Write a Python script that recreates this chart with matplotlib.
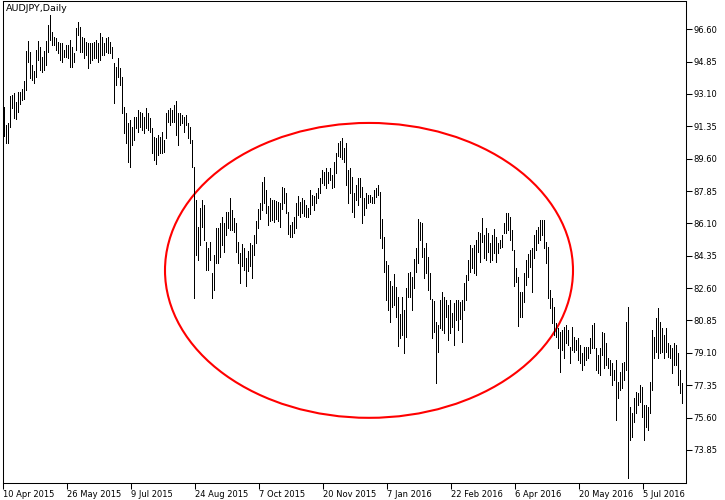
import numpy as np
import matplotlib.pyplot as plt
from matplotlib.patches import Ellipse

# AUDJPY daily high / low
highs = [92.40, 91.43, 91.54, 93.00, 93.05, 93.16, 92.67, 93.21, 93.21, 93.37,
         93.80, 95.43, 95.97, 95.37, 94.67, 94.35, 95.48, 95.97, 95.64, 95.10,
         95.43, 95.97, 96.83, 97.37, 96.45, 96.18, 96.13, 95.91, 95.86, 95.86,
         95.48, 95.75, 95.75, 96.02, 95.64, 95.32, 96.67, 96.99, 96.72, 96.18,
         96.13, 95.91, 95.86, 95.86, 95.86, 95.91, 96.02, 95.86, 96.40, 96.18,
         95.86, 96.13, 96.18, 95.91, 95.64, 94.78, 94.56, 95.05, 94.51, 94.02,
         92.40, 92.07, 91.54, 91.70, 91.32, 91.86, 91.86, 92.24, 92.13, 92.07,
         91.86, 92.35, 92.07, 91.81, 91.26, 90.77, 90.72, 90.88, 90.77, 91.05,
         90.61, 92.07, 92.24, 92.35, 92.24, 92.51, 92.72, 92.07, 92.07, 91.97,
         91.86, 91.97, 91.54, 91.32, 90.61, 89.15, 87.37, 85.91, 86.94, 87.37,
         87.10, 85.10, 84.77, 85.10, 83.42, 84.39, 85.86, 85.86, 86.13, 86.45,
         86.13, 86.72, 86.72, 87.48, 86.83, 86.40, 86.13, 85.10, 84.50, 84.99,
         84.77, 84.23, 84.61, 85.05, 84.93, 85.48, 86.24, 86.89, 87.21, 88.35,
         88.61, 87.91, 87.04, 87.48, 87.37, 87.37, 87.31, 87.26, 87.21, 88.07,
         88.02, 87.75, 86.72, 86.02, 86.18, 86.45, 87.21, 87.58, 87.26, 87.48,
         87.37, 87.10, 86.94, 87.91, 87.64, 87.58, 87.75, 88.02, 88.56, 88.99,
         88.88, 89.10, 88.88, 89.10, 88.72, 89.42, 89.91, 90.45, 90.56, 90.72,
         90.18, 90.45, 88.99, 89.10, 88.61, 87.75, 88.18, 88.56, 88.56, 88.07,
         87.48, 87.75, 87.64, 87.64, 87.53, 87.91, 88.02, 88.18, 87.80, 86.34,
         85.37, 84.07, 83.85, 82.99, 82.72, 83.37, 82.66, 82.12, 81.20, 82.12,
         81.42, 82.61, 83.42, 83.47, 83.20, 84.18, 84.77, 86.34, 86.18, 86.13,
         84.77, 85.05, 84.28, 83.42, 82.01, 81.91, 80.77, 80.61, 81.96, 82.39,
         82.12, 81.96, 81.69, 81.96, 81.26, 81.80, 81.96, 81.96, 81.85, 81.96,
         82.88, 83.31, 84.12, 84.93, 84.77, 84.93, 85.21, 85.64, 85.59, 86.40,
         85.48, 85.86, 85.59, 85.05, 85.48, 85.80, 85.37, 85.05, 85.21, 85.48,
         86.13, 86.67, 86.67, 86.45, 85.75, 84.66, 83.69, 83.20, 82.39, 82.39,
         83.42, 84.12, 84.45, 84.66, 84.77, 85.48, 85.75, 85.91, 86.29, 86.29,
         86.29, 85.10, 84.83, 82.50, 82.07, 81.58, 80.72, 80.45, 80.23, 80.34,
         80.50, 80.61, 80.34, 79.42, 80.50, 79.96, 79.80, 79.91, 79.53, 79.10,
         79.42, 79.42, 79.42, 79.91, 80.61, 80.72, 79.37, 78.99, 79.37, 80.23,
         80.18, 79.64, 78.83, 78.72, 78.56, 78.18, 78.72, 77.53, 78.07, 78.56,
         78.61, 80.77, 81.58, 76.17, 75.85, 76.66, 76.99, 76.93, 77.36, 77.26,
         76.28, 76.28, 76.17, 77.53, 80.34, 79.96, 80.99, 81.53, 80.77, 80.45,
         80.07, 80.45, 79.64, 79.53, 79.37, 79.64, 79.53, 79.10, 78.18, 77.47]

lows = [90.83, 90.45, 90.45, 91.32, 92.35, 91.81, 91.75, 92.13, 92.56, 92.78,
        92.83, 93.32, 94.83, 93.97, 93.86, 93.70, 94.02, 94.94, 94.40, 94.29,
        94.40, 94.67, 95.37, 96.02, 95.75, 95.75, 95.48, 95.32, 94.94, 94.83,
        95.10, 95.10, 95.05, 94.56, 94.56, 94.83, 95.48, 96.29, 95.37, 95.37,
        95.05, 95.21, 94.51, 94.78, 94.94, 95.05, 95.05, 94.83, 94.94, 95.21,
        95.21, 95.37, 95.32, 95.32, 95.05, 92.61, 93.59, 94.02, 93.59, 92.07,
        90.99, 90.45, 89.42, 89.15, 90.34, 90.61, 91.26, 91.05, 91.32, 91.15,
        90.99, 91.26, 91.15, 91.05, 89.91, 89.53, 89.31, 89.80, 89.91, 89.91,
        89.96, 90.72, 91.59, 91.43, 91.59, 91.59, 90.88, 90.34, 91.43, 91.54,
        91.05, 91.43, 90.72, 90.45, 89.15, 82.07, 84.39, 84.12, 84.93, 85.91,
        85.21, 83.58, 83.58, 84.12, 82.07, 82.50, 83.96, 83.96, 84.28, 84.93,
        84.55, 85.48, 85.86, 85.75, 85.75, 85.64, 84.55, 83.96, 82.88, 83.80,
        83.58, 82.72, 83.53, 83.80, 83.15, 84.39, 85.05, 85.86, 86.34, 86.83,
        87.21, 86.67, 86.02, 86.24, 86.29, 86.18, 86.34, 86.24, 85.91, 86.89,
        87.21, 86.67, 85.53, 85.37, 85.37, 85.59, 85.86, 86.56, 86.45, 86.67,
        86.51, 86.45, 86.45, 86.61, 87.10, 86.83, 87.21, 87.48, 87.75, 88.29,
        88.18, 88.02, 88.29, 88.45, 88.02, 88.07, 88.83, 89.75, 89.69, 89.58,
        89.42, 88.18, 87.21, 87.75, 86.72, 86.45, 87.37, 87.10, 87.53, 86.13,
        86.56, 86.94, 87.21, 87.26, 87.21, 87.21, 87.53, 87.64, 85.32, 84.77,
        83.47, 81.96, 81.42, 80.77, 81.58, 81.69, 81.04, 79.48, 79.91, 80.07,
        79.10, 79.96, 82.12, 82.12, 81.42, 82.61, 83.47, 83.96, 85.21, 84.28,
        83.15, 83.42, 82.50, 82.01, 79.91, 80.23, 77.47, 79.15, 80.45, 80.34,
        80.18, 81.04, 79.80, 80.18, 80.50, 79.53, 80.88, 80.34, 80.93, 79.69,
        81.42, 81.96, 83.04, 83.47, 83.69, 83.42, 83.31, 84.55, 84.01, 85.10,
        84.23, 84.12, 84.55, 84.01, 84.12, 84.50, 84.01, 84.50, 84.77, 84.83,
        85.59, 85.59, 85.75, 85.21, 84.66, 82.72, 82.93, 80.55, 81.04, 81.04,
        81.85, 82.77, 83.20, 83.74, 82.39, 84.23, 84.66, 85.05, 85.21, 85.48,
        84.77, 83.96, 82.07, 81.53, 80.72, 80.07, 79.96, 79.37, 78.07, 79.26,
        78.83, 79.64, 79.53, 78.56, 79.26, 79.15, 79.26, 78.72, 78.56, 78.18,
        78.45, 78.72, 78.83, 79.10, 79.37, 79.37, 78.18, 78.02, 77.91, 78.99,
        78.29, 78.45, 78.29, 77.91, 77.37, 77.63, 75.47, 76.66, 77.09, 77.20,
        77.63, 78.18, 72.34, 74.39, 74.55, 75.36, 75.85, 76.28, 76.45, 75.63,
        74.39, 75.09, 74.93, 75.85, 77.09, 78.83, 79.15, 78.83, 79.10, 79.15,
        78.83, 79.15, 78.88, 78.83, 78.02, 78.45, 78.45, 77.37, 76.93, 76.39]

date_labels = ['10 Apr 2015', '26 May 2015', '9 Jul 2015', '24 Aug 2015',
               '7 Oct 2015', '20 Nov 2015', '7 Jan 2016', '22 Feb 2016',
               '6 Apr 2016', '20 May 2016', '5 Jul 2016']
price_ticks = [96.60, 94.85, 93.10, 91.35, 89.60, 87.85, 86.10,
               84.35, 82.60, 80.85, 79.10, 77.35, 75.60, 73.85]

fig = plt.figure(figsize=(7.25, 5), dpi=100)
ax = fig.add_axes([2.7 / 725, 17 / 500, 683.3 / 725, 482 / 500])

x = np.arange(len(highs))
ax.vlines(x, lows, highs, color='black', lw=0.55, antialiased=False, snap=True)

# red ellipse marking the range
ax.add_patch(Ellipse((182.5, 83.56), 204, 15.95, fill=False,
                     edgecolor='#ff0000', lw=1.5))

ax.set_xlim(-0.65, 341)
ax.set_ylim(72.06, 98.13)

ax.set_xticks(np.arange(len(date_labels)) * 32 - 0.65)
ax.set_xticklabels(date_labels, ha='left')
ax.yaxis.tick_right()
ax.set_yticks(price_ticks)
ax.set_yticklabels(['%.2f' % p for p in price_ticks])
ax.tick_params(axis='x', direction='out', length=4, pad=1, labelsize=6,
               width=0.75)
ax.tick_params(axis='y', direction='out', length=4, pad=1.5, labelsize=6,
               width=0.75)
for s in ax.spines.values():
    s.set_linewidth(0.75)
    s.set_color('black')

fig.text(6 / 725, 1 - 4 / 500, 'AUDJPY,Daily', fontsize=6.8, va='top', ha='left')

fig.savefig('out.png', dpi=100)
